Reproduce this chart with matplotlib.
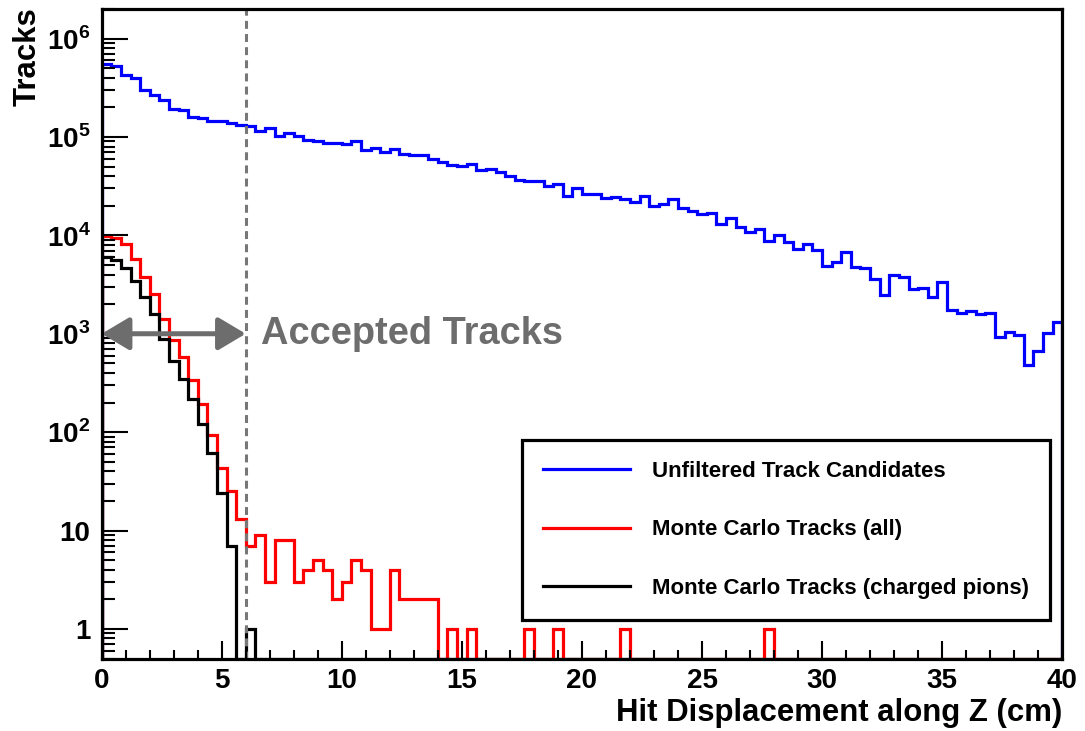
import numpy as np
import matplotlib
matplotlib.use("Agg")
import matplotlib.pyplot as plt

plt.rcParams['font.family'] = ['Liberation Sans', 'DejaVu Sans']
plt.rcParams['font.weight'] = 'bold'
plt.rcParams['mathtext.fontset'] = 'custom'
plt.rcParams['mathtext.rm'] = 'Liberation Sans:bold'
plt.rcParams['mathtext.bf'] = 'Liberation Sans:bold'

# 100 bins of 0.4 cm, 0..40 cm
edges = np.linspace(0, 40, 101)

unfiltered = [
    5.5e5, 5.3e5, 4.3e5, 3.98e5, 3.03e5, 2.69e5, 2.4e5, 1.94e5, 1.87e5, 1.61e5,
    1.56e5, 1.44e5, 1.47e5, 1.40e5, 1.33e5, 1.28e5, 1.14e5, 1.24e5, 1.02e5, 1.11e5,
    1.02e5, 9.4e4, 9.0e4, 8.6e4, 8.6e4, 8.5e4, 9.0e4, 7.4e4, 7.7e4, 7.1e4,
    7.57e4, 6.73e4, 6.5e4, 6.5e4, 5.98e4, 5.58e4, 5.24e4, 5.12e4, 5.36e4, 4.58e4,
    4.73e4, 4.37e4, 3.98e4, 3.69e4, 3.6e4, 3.6e4, 3.2e4, 3.36e4, 2.54e4, 3.03e4,
    2.64e4, 2.64e4, 2.4e4, 2.46e4, 2.37e4, 2.19e4, 2.49e4, 2.01e4, 2.1e4, 2.35e4,
    1.9e4, 1.76e4, 1.63e4, 1.69e4, 1.32e4, 1.51e4, 1.22e4, 1.07e4, 1.16e4, 8850,
    1.02e4, 8510, 7290, 8260, 7060, 4940, 5380, 6800, 4780, 4670,
    3560, 2460, 3940, 3790, 2880, 2930, 2350, 3370, 1730, 1610,
    1700, 1570, 1610, 923, 1040, 960, 476, 666, 1010, 1320,
]

mc_all = [
    9960, 9440, 8200, 5770, 3790, 2560, 1420, 855, 579, 335,
    194, 93, 43, 25, 13, 7, 9, 3, 8, 8,
    3, 4, 5, 4, 2, 3, 5, 4, 1, 1,
    4, 2, 2, 2, 2, 0, 1, 0, 1, 0,
    0, 0, 0, 0, 1, 0, 0, 1, 0, 0,
    0, 0, 0, 0, 1, 0, 0, 0, 0, 0,
    0, 0, 0, 0, 0, 0, 0, 0, 0, 1,
    0, 0, 0, 0, 0, 0, 0, 0, 0, 0,
    0, 0, 0, 0, 0, 0, 0, 0, 0, 0,
    0, 0, 0, 0, 0, 0, 0, 0, 0, 0,
]

mc_pions = [
    6000, 5600, 4700, 3450, 2380, 1580, 880, 526, 343, 215,
    122, 62, 24, 7, 0, 1, 0, 0, 0, 0,
] + [0] * 80

ymin, ymax = 0.5, 2e6
cut = 6.0

fig = plt.figure(figsize=(10.85, 7.31), dpi=100)
ax = fig.add_axes([101.7/1085, 1 - 658.5/731, 960.5/1085, 649.5/731])

series = [
    (unfiltered, 'blue', 'Unfiltered Track Candidates'),
    (mc_all, 'red', 'Monte Carlo Tracks (all)'),
    (mc_pions, 'black', 'Monte Carlo Tracks (charged pions)'),
]
for vals, col, lab in series:
    v = np.array(vals, dtype=float)
    v = np.where(v > 0, v, ymin)   # empty bins sit on the frame, like ROOT
    ax.stairs(v, edges, baseline=ymin, color=col, lw=2.3, label=lab)

ax.set_yscale('log')
ax.set_xlim(0, 40)
ax.set_ylim(ymin, ymax)

# accepted region
ax.axvline(cut, color='#777777', lw=2.2, ls=(0, (2.6, 1.7)), zorder=1)
ax.annotate('', xy=(0, 1000), xytext=(cut, 1000),
            arrowprops=dict(arrowstyle='<|-|>,head_length=0.42,head_width=0.25',
                            mutation_scale=40, lw=3.6, color='#6d6d6d',
                            shrinkA=0, shrinkB=0))
ax.text(6.65, 1000, 'Accepted Tracks', color='#6d6d6d', fontsize=27.4,
        fontweight='bold', va='center', ha='left')

ax.set_yticks([1, 10, 1e2, 1e3, 1e4, 1e5, 1e6])
ax.set_yticklabels(['1', '10', r'$10^{2}$', r'$10^{3}$', r'$10^{4}$',
                    r'$10^{5}$', r'$10^{6}$'])
ax.set_xticks(np.arange(0, 41, 5))
ax.set_xticks(np.arange(0, 41, 1), minor=True)

ax.tick_params(axis='both', which='both', direction='in', top=False, right=False,
               width=1.5, labelsize=20)
ax.tick_params(axis='y', which='major', length=19, pad=8)
ax.tick_params(axis='y', which='minor', length=9.5)
ax.tick_params(axis='x', which='major', length=13, pad=7)
ax.tick_params(axis='x', which='minor', length=6.5)
for s in ax.spines.values():
    s.set_linewidth(2.3)

ax.set_xlabel('Hit Displacement along Z (cm)', fontsize=22.4, fontweight='bold', loc='right')
ax.xaxis.set_label_coords(1.0, -0.061)
ax.set_ylabel('Tracks', fontsize=22.4, fontweight='bold', loc='top')
ax.yaxis.set_label_coords(-0.061, 1.003)

leg = ax.legend(loc='upper left', bbox_to_anchor=(0.4374, 0.3364), fontsize=16,
                frameon=True, fancybox=False, framealpha=1, edgecolor='black',
                handlelength=3.9, handletextpad=1.0, labelspacing=1.68, borderpad=0.95,
                borderaxespad=0)
leg.get_frame().set_linewidth(2.3)
for t in leg.get_texts():
    t.set_fontweight('bold')

fig.savefig('out.png', dpi=100)
